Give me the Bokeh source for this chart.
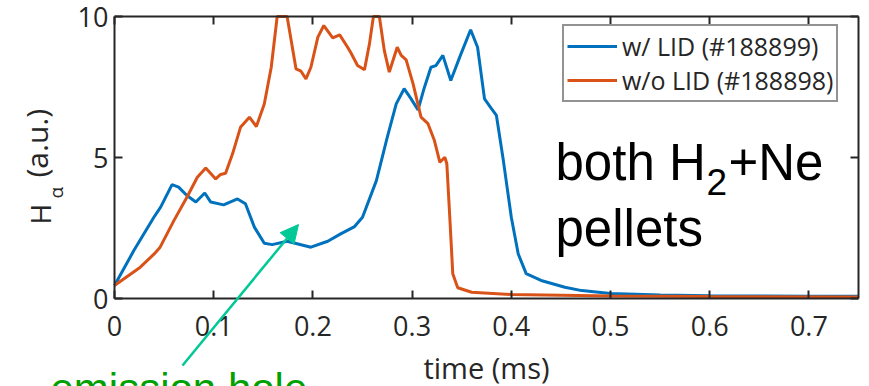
import math
from bokeh.plotting import figure
from bokeh.models import (Range1d, LinearAxis, FixedTicker, Label, Arrow, NormalHead, Legend)
from bokeh.embed import file_html
from bokeh.resources import INLINE

# ---- data ----
t_lid = [0, 0.0195, 0.0397, 0.0465, 0.058, 0.0646, 0.073, 0.082, 0.091, 0.097, 0.110, 0.124,
         0.132, 0.141, 0.151, 0.159, 0.174, 0.198, 0.215, 0.228, 0.242, 0.250, 0.264, 0.275,
         0.284, 0.292, 0.299, 0.306, 0.312, 0.319, 0.324, 0.331, 0.339, 0.348, 0.359, 0.366,
         0.373, 0.380, 0.385, 0.392, 0.400, 0.407, 0.415, 0.430, 0.454, 0.471, 0.5, 0.55,
         0.6, 0.65, 0.7, 0.75]
h_lid = [0.46, 1.70, 2.88, 3.24, 4.04, 3.95, 3.65, 3.42, 3.74, 3.42, 3.32, 3.53,
         3.36, 2.53, 1.96, 1.91, 2.03, 1.82, 2.03, 2.29, 2.55, 2.88, 4.18, 5.72,
         6.90, 7.44, 7.08, 6.69, 7.44, 8.20, 8.26, 8.62, 7.73, 8.56, 9.53, 8.91,
         7.08, 6.73, 6.49, 4.89, 2.88, 1.58, 0.88, 0.64, 0.40, 0.28, 0.18, 0.12,
         0.10, 0.09, 0.08, 0.08]

t_nolid = [0, 0.026, 0.040, 0.046, 0.060, 0.073, 0.0835, 0.092, 0.102, 0.107, 0.112, 0.119,
           0.127, 0.136, 0.143, 0.151, 0.158, 0.164, 0.169, 0.174, 0.183, 0.188, 0.193, 0.198,
           0.205, 0.211, 0.220, 0.227, 0.235, 0.238, 0.245, 0.252, 0.257, 0.261, 0.264, 0.267,
           0.272, 0.277, 0.285, 0.289, 0.294, 0.301, 0.309, 0.316, 0.3225, 0.328, 0.333, 0.335,
           0.338, 0.341, 0.346, 0.360, 0.400, 0.5, 0.6, 0.75]
h_nolid = [0.46, 1.11, 1.58, 1.82, 2.77, 3.59, 4.30, 4.63, 4.24, 4.40, 4.44, 5.13,
           6.07, 6.43, 6.10, 6.90, 8.20, 10.0, 10.0, 10.0, 8.14, 8.06, 7.79, 8.20,
           9.27, 9.68, 9.24, 9.35, 8.91, 8.73, 8.26, 8.11, 9.03, 10.0, 10.0, 10.0,
           8.79, 8.03, 8.91, 8.62, 8.46, 7.61, 6.43, 6.20, 5.60, 4.83, 5.01, 4.78,
           2.88, 0.88, 0.38, 0.22, 0.14, 0.09, 0.07, 0.05]

series_labels = ["w/ LID (#188899)", "w/o LID (#188898)"]
x_ticks = [0, 0.1, 0.2, 0.3, 0.4, 0.5, 0.6, 0.7]
x_tick_labels = ["0", "0.1", "0.2", "0.3", "0.4", "0.5", "0.6", "0.7"]
y_ticks = [0, 5, 10]
y_tick_labels = ["0", "5", "10"]
x_lim = (0, 0.75)
y_lim = (0, 10)

# ---- layout (pixels) ----
W, H = 869, 386
FL, FR, FT, FB = 114, 858, 16, 298          # axes box inside the canvas
PXX = (FR - FL) / (x_lim[1] - x_lim[0])       # px per x unit
PXY = (FB - FT) / (y_lim[1] - y_lim[0])       # px per y unit


def dx(px):
    return x_lim[0] + (px - FL) / PXX


def dy(py):
    return y_lim[0] + (FB - py) / PXY


BLUE = "#0072BD"
ORANGE = "#D95319"
AX = "#262626"
TFONT = "Open Sans"
BIG = "Liberation Sans"

p = figure(width=W, height=H, output_backend="svg", toolbar_location=None,
           x_range=Range1d(dx(0), dx(W)), y_range=Range1d(dy(H), dy(0)),
           min_border=0, x_axis_location=None, y_axis_location=None)
p.grid.visible = False
p.outline_line_color = None
p.background_fill_color = "white"
p.border_fill_color = "white"

r1 = p.line(t_lid, h_lid, line_color=BLUE, line_width=3)
r2 = p.line(t_nolid, h_nolid, line_color=ORANGE, line_width=3)


def make_axis(ticks, labels, bounds, loc, show_labels=True):
    ax = LinearAxis(fixed_location=loc, bounds=bounds)
    ax.ticker = FixedTicker(ticks=ticks)
    ax.axis_line_color = AX
    ax.axis_line_width = 2
    ax.major_tick_line_color = AX
    ax.major_tick_line_width = 2
    ax.major_tick_in = 8
    ax.major_tick_out = 0
    ax.minor_tick_line_color = None
    ax.major_label_text_font = TFONT
    if show_labels:
        ax.major_label_overrides = {t: l for t, l in zip(ticks, labels)}
        ax.major_label_text_font_size = "27px"
        ax.major_label_text_color = AX
    else:
        ax.major_label_overrides = {t: "" for t in ticks}
        ax.major_label_text_font_size = "1px"
        ax.major_label_text_color = None
        ax.major_label_standoff = 0
    return ax


xax = make_axis(x_ticks, x_tick_labels, x_lim, y_lim[0])
xax.major_label_standoff = 17
xax.axis_label = "time (ms)"
xax.axis_label_text_font = TFONT
xax.axis_label_text_font_size = "29px"
xax.axis_label_text_font_style = "normal"
xax.axis_label_text_color = AX
xax.axis_label_standoff = 9
p.add_layout(xax, "below")

yax = make_axis(y_ticks, y_tick_labels, y_lim, x_lim[0])
yax.major_label_standoff = 6
p.add_layout(yax, "left")

p.add_layout(make_axis(x_ticks, x_tick_labels, x_lim, y_lim[1], show_labels=False), "above")
p.add_layout(make_axis(y_ticks, y_tick_labels, y_lim, x_lim[1], show_labels=False), "right")

# y-axis label made of pieces (H with subscript alpha)
p.add_layout(Label(x=dx(39.1), y=dy(224), text="H", angle=math.pi / 2, text_font=TFONT,
                   text_font_size="28px", text_color=AX, text_baseline="middle",
                   text_align="left"))
p.add_layout(Label(x=dx(55.6), y=dy(198), text="α", angle=math.pi / 2, text_font=TFONT,
                   text_font_size="19px", text_color=AX, text_baseline="middle",
                   text_align="left"))
p.add_layout(Label(x=dx(36.4), y=dy(177), text="(a.u.)", angle=math.pi / 2, text_font=TFONT,
                   text_font_size="30px", text_color=AX, text_baseline="middle",
                   text_align="left"))

# legend (bottom-left corner given in canvas px from bottom-left)
legend = Legend(items=[(series_labels[0], [r1]), (series_labels[1], [r2])],
                location=(562, H - 102))
legend.padding = 3
legend.spacing = 0
legend.glyph_width = 50
legend.glyph_height = 30
legend.label_height = 30
legend.label_standoff = 5
legend.label_text_font = TFONT
legend.label_text_font_size = "25px"
legend.label_text_color = AX
legend.border_line_color = AX
legend.border_line_width = 2
legend.background_fill_alpha = 1
p.add_layout(legend)

# big annotation text
p.add_layout(Label(x=dx(555), y=dy(162), text="both H", text_font=BIG, text_font_size="51px",
                   text_color="black", text_baseline="middle"))
p.add_layout(Label(x=dx(706), y=dy(181), text="2", text_font=BIG, text_font_size="37px",
                   text_color="black", text_baseline="middle"))
p.add_layout(Label(x=dx(728), y=dy(162), text="+Ne", text_font=BIG, text_font_size="51px",
                   text_color="black", text_baseline="middle"))
p.add_layout(Label(x=dx(555), y=dy(228), text="pellets", text_font=BIG, text_font_size="51px",
                   text_color="black", text_baseline="middle"))

# arrow + "emission hole"
p.add_layout(Arrow(end=NormalHead(size=18, fill_color="#00C896", line_color="#00C896"),
                   x_start=dx(182), y_start=dy(365), x_end=dx(298), y_end=dy(224),
                   line_color="#00C896", line_width=2.5))
p.add_layout(Label(x=dx(50), y=dy(388), text="emission hole",
                   text_font=BIG, text_font_size="42px", text_color="#00A000",
                   text_baseline="middle"))

open("out.html", "w").write(file_html(p, INLINE))
